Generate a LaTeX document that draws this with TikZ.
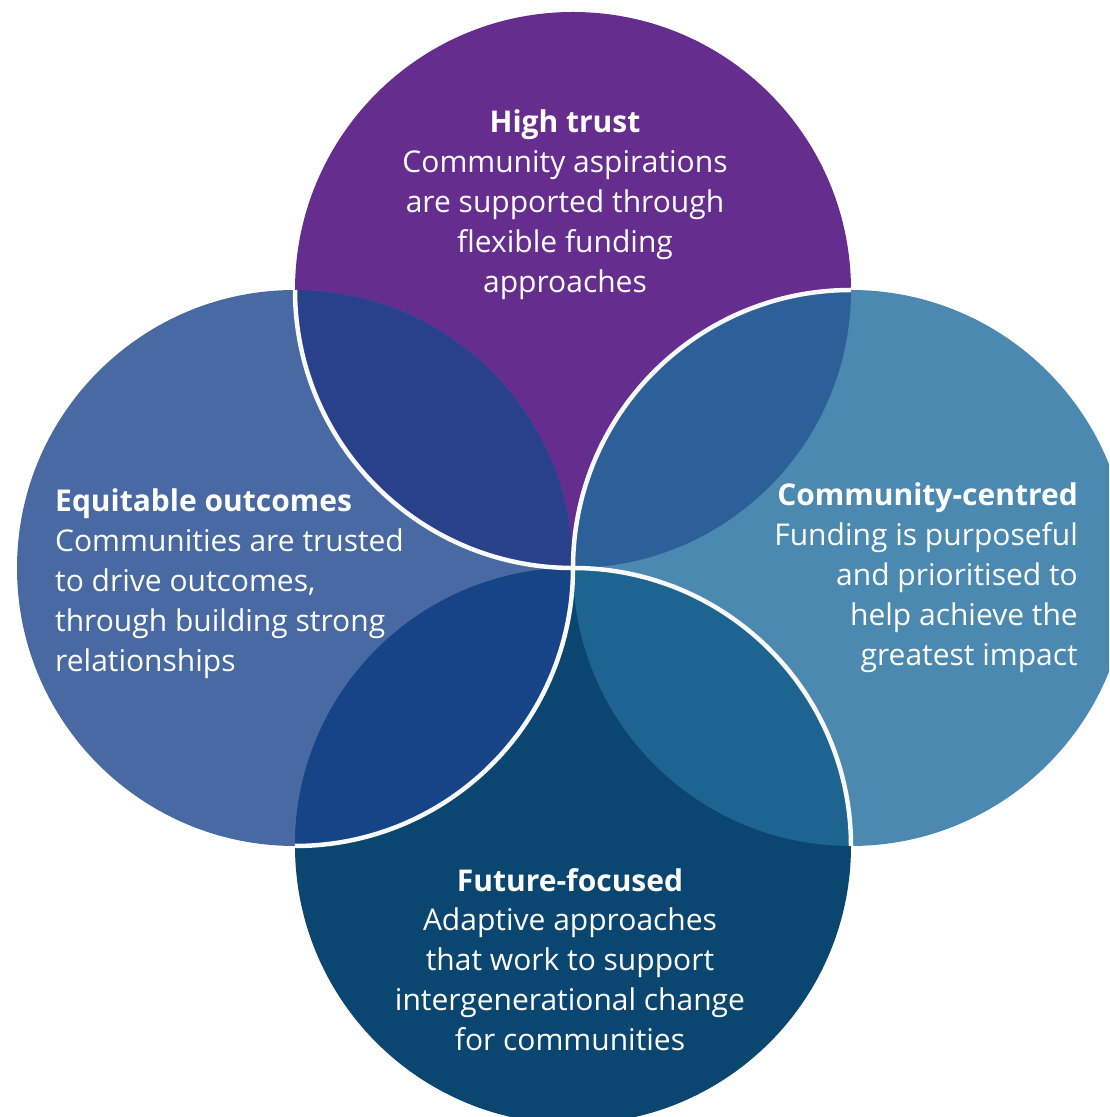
\documentclass[tikz,border=0pt]{standalone}
\usepackage{fontspec}
\setmainfont{Open Sans}
\usepackage{tikz}
\usetikzlibrary{positioning}

\definecolor{trustpurple}{HTML}{652D8E}
\definecolor{equityblue}{HTML}{4869A1}
\definecolor{centredblue}{HTML}{4B89B0}
\definecolor{futurenavy}{HTML}{0A4670}
\definecolor{lensTL}{HTML}{29408A}
\definecolor{lensTR}{HTML}{2D6098}
\definecolor{lensRB}{HTML}{1D6491}
\definecolor{lensLB}{HTML}{174486}

\begin{document}
\begin{tikzpicture}[x=1pt,y=1pt,
                      ringtext/.style={text=white,inner sep=0pt,font=\fontsize{30}{40}\selectfont},
                      rim/.style={draw=white!95!gray,line width=4.5pt}]
                      \useasboundingbox (0,0) rectangle (1109,1117);
                      \clip (0,0) rectangle (1109,1117);
                      % circle centres
                      \coordinate (c_top) at (573,827);
                      \coordinate (c_left) at (295,549);
                      \coordinate (c_right) at (851,549);
                      \coordinate (c_bottom) at (573,271);
                      \fill[trustpurple] (c_top) circle (278pt);
                      \fill[equityblue] (c_left) circle (278pt);
                      \fill[centredblue] (c_right) circle (278pt);
                      \fill[futurenavy] (c_bottom) circle (278pt);
                      % overlaps
                      \begin{scope}
                        \clip (c_top) circle (278pt);
                        \fill[lensTL] (c_left) circle (278pt);
                        \fill[lensTR] (c_right) circle (278pt);
                      \end{scope}
                      \begin{scope}
                        \clip (c_bottom) circle (278pt);
                        \fill[lensLB] (c_left) circle (278pt);
                        \fill[lensRB] (c_right) circle (278pt);
                      \end{scope}
                      % white rims
                      \draw[rim] ([xshift=-278pt]c_top) arc[start angle=180,end angle=270,radius=278pt];
                      \draw[rim] ([yshift=278pt]c_right) arc[start angle=90,end angle=180,radius=278pt];
                      \draw[rim] ([xshift=278pt]c_bottom) arc[start angle=0,end angle=90,radius=278pt];
                      \draw[rim] ([yshift=-278pt]c_left) arc[start angle=270,end angle=360,radius=278pt];
                      % texts (anchored at the last baseline)
                      \node[ringtext,align=center,anchor=base] (hightrust) at (565,824)
                        {\textbf{High trust}\\Community aspirations\\are supported through\\flexible funding\\approaches};
                      \node[ringtext,align=left,anchor=base west] (equitable) at (55,445)
                        {\textbf{Equitable outcomes}\\Communities are trusted\\to drive outcomes,\\through building strong\\relationships};
                      \node[ringtext,align=right,anchor=base east] (centred) at (1078,451)
                        {\textbf{Community-centred}\\Funding is purposeful\\and prioritised to\\help achieve the\\greatest impact};
                      \node[ringtext,align=center,anchor=base] (future) at (570,66)
                        {\textbf{Future-focused}\\Adaptive approaches\\that work to support\\intergenerational change\\for communities};
                  \end{tikzpicture}
\end{document}
